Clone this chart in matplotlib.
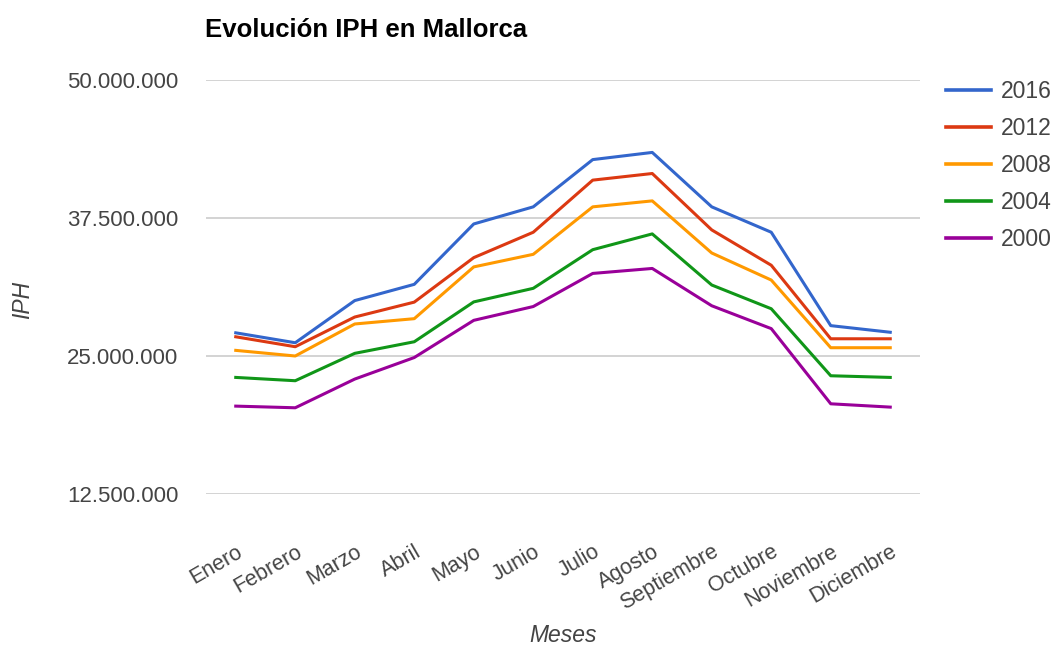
import matplotlib
matplotlib.use("Agg")
import matplotlib.pyplot as plt
from matplotlib.ticker import FuncFormatter

plt.rcParams['font.family'] = ['Liberation Sans', 'DejaVu Sans']

meses = ["Enero", "Febrero", "Marzo", "Abril", "Mayo", "Junio", "Julio",
         "Agosto", "Septiembre", "Octubre", "Noviembre", "Diciembre"]

iph_2016 = [27.10, 26.20, 30.02, 31.49, 36.96, 38.51, 42.79, 43.44, 38.51, 36.21, 27.75, 27.15]
iph_2012 = [26.74, 25.84, 28.53, 29.88, 33.91, 36.21, 40.93, 41.53, 36.42, 33.22, 26.56, 26.56]
iph_2008 = [25.51, 25.00, 27.90, 28.38, 33.07, 34.21, 38.51, 39.05, 34.33, 31.88, 25.75, 25.75]
iph_2004 = [23.06, 22.76, 25.24, 26.29, 29.90, 31.13, 34.63, 36.06, 31.43, 29.28, 23.21, 23.06]
iph_2000 = [20.46, 20.31, 22.91, 24.86, 28.23, 29.48, 32.48, 32.93, 29.55, 27.48, 20.67, 20.37]

series = [("2016", iph_2016, "#3366cc"),
          ("2012", iph_2012, "#dc3912"),
          ("2008", iph_2008, "#ff9900"),
          ("2004", iph_2004, "#109618"),
          ("2000", iph_2000, "#990099")]

yticks = [12.5e6, 25e6, 37.5e6, 50e6]

W, H = 1054, 646
fig = plt.figure(figsize=(W / 100, H / 100), dpi=100)
ax = fig.add_axes([206 / W, 1 - 494 / H, (920 - 206) / W, (494 - 80) / H])

x = list(range(len(meses)))
for label, vals, color in series:
    ax.plot(x, [v * 1e6 for v in vals], color=color, lw=2.2, label=label,
            solid_joinstyle='round')

ax.set_xlim(-0.5, len(meses) - 0.5)
ax.set_ylim(12.5e6, 50e6)
ax.set_yticks(yticks)
ax.yaxis.set_major_formatter(FuncFormatter(lambda v, p: f"{int(round(v)):,}".replace(",", ".")))
ax.grid(axis='y', color='#cccccc', lw=1.2)
ax.set_axisbelow(True)
for s in ax.spines.values():
    s.set_visible(False)
ax.tick_params(axis='both', length=0, colors='#444444', labelsize=16)
ax.tick_params(axis='y', pad=20)
ax.set_xticks(x)
ax.set_xticklabels(meses, rotation=30, ha='right', rotation_mode='anchor')
ax.tick_params(axis='x', pad=34, labelsize=15.5)

fig.text(563 / W, 1 - 635 / H, "Meses", style='italic', fontsize=16.5,
         color='#444444', ha='center', va='center')
fig.text(23 / W, 1 - 300 / H, "IPH", style='italic', fontsize=16.5,
         color='#444444', ha='center', va='center', rotation=90)

fig.text(205 / W, 1 - 30 / H, "Evolución IPH en Mallorca", fontsize=18.5,
         fontweight='bold', color='#000000', va='center', ha='left')

leg = fig.legend(loc='upper left', bbox_to_anchor=(946 / W, 1 - 80 / H), frameon=False,
                 fontsize=16.5, handlelength=1.95, labelspacing=0.61, handletextpad=0.45,
                 borderpad=0, borderaxespad=0)
for t in leg.get_texts():
    t.set_color('#444444')
for h in leg.get_lines():
    h.set_linewidth(2.6)

fig.savefig("out.png", dpi=100)
